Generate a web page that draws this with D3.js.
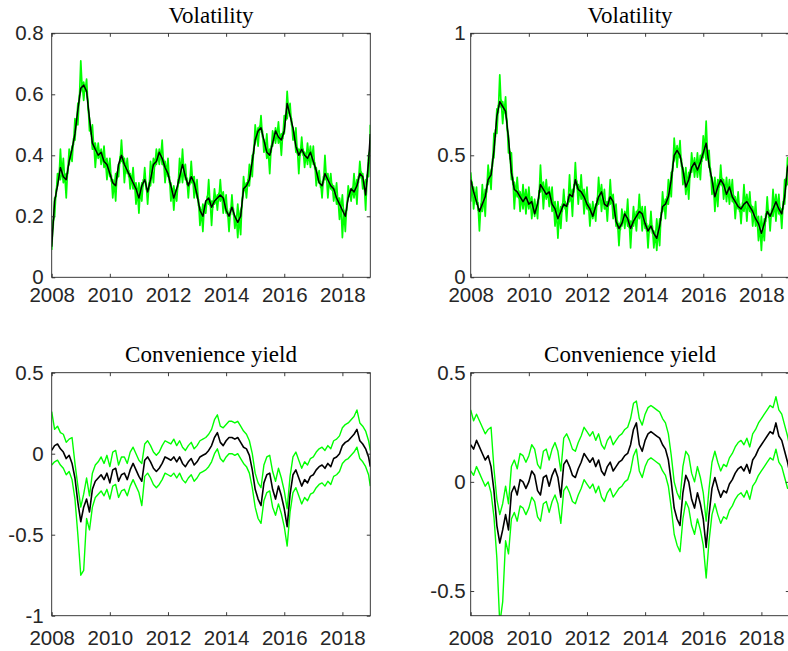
<!DOCTYPE html>
<html>
<head>
<meta charset="utf-8">
<script src="https://cdn.jsdelivr.net/npm/d3@7"></script>
<style>
  body { margin: 0; background: #fff; }
  svg { display: block; }
</style>
</head>
<body>
<div id="chart"></div>
<script>
// Sampling grid: every 0.1 year from 2008.0 to 2018.9, plus the last day of the sample
const years = d3.range(2008, 2018.95, 0.1).concat([2018.96]);
// In-between samples for the noisy volatility bands (2008.05 ... 2018.95)
const halfYears = d3.range(2008.05, 2018.96, 0.1);
const xTicks = [2008, 2010, 2012, 2014, 2016, 2018];

// Volatility, first contract (estimate + bands)
const vol1Mid = [
  0.10,0.25,0.30,0.36,0.33,0.32,0.38,0.42,0.47,0.55,
  0.62,0.63,0.61,0.52,0.44,0.42,0.40,0.41,0.38,0.37,
  0.34,0.31,0.30,0.37,0.40,0.37,0.35,0.33,0.31,0.29,
  0.26,0.30,0.32,0.28,0.32,0.37,0.38,0.41,0.39,0.36,
  0.34,0.30,0.26,0.29,0.33,0.37,0.33,0.30,0.33,0.31,
  0.27,0.22,0.20,0.25,0.26,0.23,0.25,0.26,0.27,0.26,
  0.22,0.20,0.23,0.20,0.18,0.20,0.29,0.30,0.32,0.38,
  0.45,0.48,0.49,0.45,0.41,0.40,0.44,0.48,0.46,0.45,
  0.48,0.57,0.53,0.49,0.43,0.40,0.42,0.40,0.39,0.41,
  0.38,0.35,0.31,0.30,0.34,0.32,0.30,0.29,0.26,0.24,
  0.22,0.20,0.26,0.29,0.28,0.30,0.34,0.33,0.27,0.38,
  0.47];
const vol1Up = [
  0.15,0.26,0.34,0.42,0.39,0.34,0.42,0.43,0.52,0.57,
  0.71,0.64,0.65,0.52,0.50,0.44,0.44,0.42,0.43,0.39,
  0.39,0.32,0.34,0.37,0.45,0.39,0.39,0.34,0.36,0.31,
  0.31,0.31,0.36,0.28,0.38,0.39,0.42,0.42,0.45,0.38,
  0.39,0.31,0.30,0.29,0.39,0.42,0.37,0.31,0.38,0.33,
  0.32,0.23,0.24,0.25,0.32,0.25,0.29,0.27,0.32,0.28,
  0.27,0.21,0.27,0.20,0.24,0.22,0.33,0.31,0.37,0.40,
  0.50,0.49,0.53,0.45,0.47,0.42,0.48,0.49,0.51,0.47,
  0.53,0.61,0.57,0.49,0.49,0.42,0.46,0.41,0.44,0.43,
  0.43,0.36,0.35,0.30,0.40,0.34,0.34,0.30,0.31,0.26,
  0.27,0.21,0.30,0.29,0.34,0.32,0.38,0.34,0.32,0.40,
  0.50];
const vol1UpHalf = [
  0.165,0.265,0.32,0.335,0.315,0.34,0.39,0.435,0.50,0.575,
  0.615,0.61,0.555,0.47,0.42,0.40,0.395,0.385,0.365,0.345,
  0.315,0.295,0.325,0.375,0.375,0.35,0.33,0.31,0.29,0.265,
  0.27,0.30,0.29,0.29,0.335,0.365,0.385,0.39,0.365,0.34,
  0.31,0.27,0.265,0.30,0.34,0.34,0.305,0.305,0.31,0.28,
  0.235,0.20,0.215,0.245,0.235,0.23,0.245,0.255,0.255,0.23,
  0.20,0.205,0.205,0.18,0.18,0.235,0.285,0.30,0.34,0.405,
  0.455,0.475,0.46,0.42,0.395,0.41,0.45,0.46,0.445,0.455,
  0.515,0.54,0.50,0.45,0.405,0.40,0.40,0.385,0.39,0.385,
  0.355,0.32,0.295,0.31,0.32,0.30,0.285,0.265,0.24,0.22,
  0.20,0.22,0.265,0.275,0.28,0.31,0.325,0.29,0.315,0.415];
const vol1Lo = [
  0.09,0.20,0.30,0.32,0.31,0.26,0.37,0.38,0.45,0.50,
  0.61,0.58,0.61,0.48,0.42,0.36,0.39,0.37,0.36,0.32,
  0.33,0.26,0.25,0.33,0.38,0.31,0.34,0.29,0.29,0.24,
  0.21,0.25,0.32,0.24,0.30,0.31,0.37,0.37,0.37,0.31,
  0.33,0.25,0.22,0.25,0.31,0.31,0.32,0.26,0.31,0.26,
  0.26,0.17,0.15,0.21,0.24,0.17,0.24,0.22,0.25,0.21,
  0.21,0.15,0.23,0.16,0.13,0.14,0.28,0.26,0.30,0.33,
  0.44,0.43,0.49,0.41,0.39,0.34,0.43,0.44,0.44,0.40,
  0.47,0.52,0.53,0.45,0.41,0.34,0.41,0.36,0.37,0.36,
  0.37,0.30,0.31,0.26,0.32,0.26,0.29,0.25,0.24,0.19,
  0.13,0.15,0.26,0.25,0.26,0.24,0.33,0.29,0.22,0.33,
  0.45];
const vol1LoHalf = [
  0.185,0.285,0.34,0.355,0.335,0.36,0.41,0.455,0.52,0.595,
  0.635,0.63,0.575,0.49,0.44,0.42,0.415,0.405,0.385,0.365,
  0.335,0.315,0.345,0.395,0.395,0.37,0.35,0.33,0.31,0.285,
  0.29,0.32,0.31,0.31,0.355,0.385,0.405,0.41,0.385,0.36,
  0.33,0.29,0.285,0.32,0.36,0.36,0.325,0.325,0.33,0.30,
  0.255,0.22,0.235,0.265,0.255,0.25,0.265,0.275,0.275,0.25,
  0.22,0.225,0.225,0.20,0.20,0.255,0.305,0.32,0.36,0.425,
  0.475,0.495,0.48,0.44,0.415,0.43,0.47,0.48,0.465,0.475,
  0.535,0.56,0.52,0.47,0.425,0.42,0.42,0.405,0.41,0.405,
  0.375,0.34,0.315,0.33,0.34,0.32,0.305,0.285,0.26,0.24,
  0.22,0.24,0.285,0.295,0.30,0.33,0.345,0.31,0.335,0.435];

// Volatility, second contract
const vol2Mid = [
  0.40,0.35,0.31,0.27,0.30,0.33,0.40,0.42,0.52,0.66,
  0.72,0.70,0.68,0.57,0.43,0.36,0.35,0.33,0.31,0.33,
  0.30,0.31,0.26,0.30,0.38,0.36,0.34,0.35,0.30,0.28,
  0.24,0.27,0.30,0.29,0.34,0.33,0.40,0.36,0.35,0.33,
  0.30,0.28,0.25,0.29,0.33,0.35,0.30,0.29,0.33,0.31,
  0.23,0.20,0.22,0.26,0.24,0.20,0.23,0.25,0.27,0.26,
  0.22,0.19,0.21,0.18,0.16,0.21,0.29,0.30,0.33,0.40,
  0.50,0.52,0.50,0.44,0.37,0.40,0.45,0.47,0.44,0.47,
  0.51,0.55,0.46,0.40,0.33,0.37,0.40,0.38,0.34,0.37,
  0.33,0.31,0.29,0.28,0.30,0.31,0.29,0.27,0.24,0.22,
  0.18,0.22,0.27,0.25,0.28,0.31,0.28,0.26,0.33,0.45,
  0.47];
const vol2Up = [
  0.43,0.37,0.37,0.28,0.38,0.36,0.46,0.44,0.59,0.69,
  0.83,0.72,0.74,0.58,0.51,0.39,0.41,0.35,0.38,0.36,
  0.37,0.33,0.32,0.31,0.46,0.39,0.40,0.37,0.37,0.31,
  0.31,0.29,0.36,0.30,0.42,0.36,0.47,0.38,0.42,0.36,
  0.37,0.30,0.31,0.30,0.41,0.38,0.36,0.31,0.40,0.34,
  0.30,0.22,0.28,0.27,0.32,0.23,0.29,0.27,0.34,0.29,
  0.29,0.21,0.27,0.19,0.24,0.24,0.35,0.32,0.40,0.43,
  0.57,0.54,0.56,0.45,0.45,0.43,0.51,0.49,0.51,0.50,
  0.58,0.64,0.52,0.41,0.41,0.40,0.46,0.40,0.41,0.40,
  0.40,0.33,0.35,0.29,0.38,0.34,0.35,0.29,0.31,0.25,
  0.25,0.24,0.33,0.26,0.36,0.34,0.34,0.28,0.40,0.49,
  0.50];
const vol2UpHalf = [
  0.36,0.315,0.275,0.27,0.30,0.35,0.395,0.455,0.575,0.675,
  0.695,0.675,0.61,0.485,0.38,0.34,0.325,0.305,0.305,0.30,
  0.29,0.27,0.265,0.325,0.355,0.335,0.33,0.31,0.275,0.245,
  0.24,0.27,0.28,0.30,0.32,0.35,0.365,0.34,0.325,0.30,
  0.275,0.25,0.255,0.295,0.325,0.31,0.28,0.295,0.305,0.255,
  0.20,0.195,0.225,0.235,0.205,0.20,0.225,0.245,0.25,0.225,
  0.19,0.185,0.18,0.155,0.17,0.235,0.28,0.30,0.35,0.435,
  0.495,0.495,0.455,0.39,0.37,0.41,0.445,0.44,0.44,0.475,
  0.515,0.49,0.415,0.35,0.335,0.37,0.375,0.345,0.34,0.335,
  0.305,0.285,0.27,0.275,0.29,0.285,0.265,0.24,0.215,0.185,
  0.185,0.23,0.245,0.25,0.28,0.28,0.255,0.28,0.375,0.445];
const vol2Lo = [
  0.31,0.28,0.30,0.19,0.27,0.25,0.38,0.36,0.49,0.59,
  0.70,0.63,0.67,0.51,0.40,0.28,0.33,0.27,0.28,0.26,
  0.28,0.24,0.25,0.24,0.35,0.28,0.32,0.29,0.27,0.21,
  0.16,0.20,0.29,0.23,0.31,0.25,0.38,0.30,0.32,0.26,
  0.28,0.21,0.24,0.23,0.30,0.27,0.28,0.23,0.30,0.24,
  0.21,0.13,0.21,0.20,0.21,0.12,0.21,0.19,0.24,0.19,
  0.20,0.12,0.20,0.12,0.11,0.13,0.27,0.24,0.30,0.33,
  0.48,0.45,0.49,0.38,0.34,0.32,0.43,0.41,0.41,0.40,
  0.49,0.48,0.45,0.34,0.27,0.29,0.38,0.32,0.31,0.30,
  0.31,0.24,0.28,0.22,0.27,0.23,0.27,0.21,0.21,0.15,
  0.11,0.15,0.26,0.19,0.25,0.23,0.26,0.20,0.30,0.38,
  0.44];
const vol2LoHalf = [
  0.39,0.345,0.305,0.30,0.33,0.38,0.425,0.485,0.605,0.705,
  0.725,0.705,0.64,0.515,0.41,0.37,0.355,0.335,0.335,0.33,
  0.32,0.30,0.295,0.355,0.385,0.365,0.36,0.34,0.305,0.275,
  0.27,0.30,0.31,0.33,0.35,0.38,0.395,0.37,0.355,0.33,
  0.305,0.28,0.285,0.325,0.355,0.34,0.31,0.325,0.335,0.285,
  0.23,0.225,0.255,0.265,0.235,0.23,0.255,0.275,0.28,0.255,
  0.22,0.215,0.21,0.185,0.20,0.265,0.31,0.33,0.38,0.465,
  0.525,0.525,0.485,0.42,0.40,0.44,0.475,0.47,0.47,0.505,
  0.545,0.52,0.445,0.38,0.365,0.40,0.405,0.375,0.37,0.365,
  0.335,0.315,0.30,0.305,0.32,0.315,0.295,0.27,0.245,0.215,
  0.215,0.26,0.275,0.28,0.31,0.31,0.285,0.31,0.405,0.475];

// Convenience yield, first contract
const conv1Mid = [
  0.02,0.05,0.06,0.03,0.01,-0.03,-0.01,-0.06,-0.15,-0.30,
  -0.42,-0.33,-0.28,-0.36,-0.22,-0.17,-0.15,-0.13,-0.16,-0.12,
  -0.18,-0.10,-0.09,-0.17,-0.13,-0.12,-0.16,-0.10,-0.06,-0.10,
  -0.14,-0.17,-0.04,-0.02,-0.05,-0.09,-0.11,-0.09,-0.06,-0.02,
  -0.03,-0.04,-0.02,-0.05,-0.02,-0.06,-0.08,-0.05,-0.03,-0.07,
  -0.05,-0.02,-0.01,0.00,0.02,0.05,0.10,0.13,0.07,0.05,
  0.08,0.10,0.10,0.09,0.10,0.07,0.04,0.03,-0.01,-0.10,
  -0.22,-0.28,-0.32,-0.18,-0.13,-0.12,-0.22,-0.28,-0.20,-0.26,
  -0.34,-0.45,-0.25,-0.13,-0.10,-0.15,-0.20,-0.16,-0.18,-0.14,
  -0.13,-0.10,-0.08,-0.07,-0.09,-0.06,-0.08,-0.03,-0.02,0.00,
  0.05,0.07,0.08,0.10,0.12,0.15,0.08,0.06,0.03,-0.02,
  -0.08];
const conv1Up = [
  0.26,0.15,0.17,0.13,0.12,0.07,0.09,0.10,-0.06,-0.20,
  -0.33,-0.25,-0.15,-0.26,-0.12,-0.07,-0.05,-0.02,-0.06,-0.01,
  -0.08,0.01,0.02,-0.07,-0.02,-0.02,-0.06,0.01,0.04,0.00,
  -0.04,-0.06,0.06,0.08,0.05,0.01,-0.01,0.01,0.05,0.08,
  0.07,0.06,0.09,0.05,0.08,0.04,0.02,0.05,0.07,0.03,
  0.05,0.08,0.09,0.10,0.12,0.15,0.21,0.24,0.17,0.16,
  0.18,0.20,0.20,0.19,0.20,0.17,0.14,0.12,0.08,0.00,
  -0.12,-0.18,-0.21,-0.07,-0.02,-0.01,-0.11,-0.17,-0.09,-0.15,
  -0.23,-0.34,-0.14,-0.02,0.01,-0.04,-0.09,-0.05,-0.07,-0.03,
  -0.02,0.01,0.03,0.04,0.02,0.05,0.03,0.08,0.09,0.11,
  0.16,0.18,0.19,0.21,0.23,0.27,0.19,0.17,0.14,0.08,
  0.02];
const conv1Lo = [
  -0.07,-0.05,-0.04,-0.07,-0.09,-0.13,-0.11,-0.16,-0.28,-0.50,
  -0.75,-0.72,-0.40,-0.47,-0.33,-0.27,-0.25,-0.23,-0.26,-0.22,
  -0.28,-0.20,-0.19,-0.27,-0.23,-0.22,-0.26,-0.20,-0.16,-0.20,
  -0.24,-0.32,-0.14,-0.12,-0.15,-0.19,-0.21,-0.19,-0.16,-0.12,
  -0.13,-0.14,-0.12,-0.15,-0.12,-0.16,-0.18,-0.15,-0.13,-0.17,
  -0.15,-0.12,-0.11,-0.10,-0.08,-0.05,0.00,0.03,-0.03,-0.05,
  -0.02,0.00,0.00,-0.01,0.00,-0.03,-0.06,-0.08,-0.12,-0.21,
  -0.33,-0.40,-0.43,-0.29,-0.24,-0.23,-0.33,-0.38,-0.31,-0.37,
  -0.45,-0.57,-0.36,-0.24,-0.21,-0.26,-0.31,-0.27,-0.29,-0.25,
  -0.24,-0.21,-0.19,-0.18,-0.20,-0.17,-0.19,-0.14,-0.13,-0.11,
  -0.06,-0.04,-0.03,-0.01,0.01,0.04,-0.03,-0.05,-0.08,-0.13,
  -0.20];

// Convenience yield, second contract
const conv2Mid = [
  0.17,0.15,0.19,0.16,0.13,0.10,0.12,0.07,-0.04,-0.20,
  -0.28,-0.22,-0.15,-0.22,-0.05,-0.02,-0.06,0.01,0.00,-0.03,
  0.00,0.05,0.03,-0.04,-0.06,0.02,0.03,-0.02,0.03,0.06,
  0.02,-0.07,0.08,0.10,0.07,0.03,0.02,0.06,0.09,0.13,
  0.11,0.09,0.11,0.07,0.10,0.05,0.03,0.07,0.09,0.05,
  0.07,0.09,0.10,0.12,0.13,0.17,0.24,0.27,0.17,0.14,
  0.19,0.22,0.23,0.22,0.21,0.20,0.17,0.15,0.10,0.00,
  -0.12,-0.17,-0.20,-0.05,0.03,0.00,-0.08,-0.12,-0.05,-0.10,
  -0.17,-0.30,-0.15,-0.03,0.02,-0.03,-0.07,-0.04,-0.05,-0.01,
  0.01,0.04,0.06,0.07,0.05,0.08,0.04,0.10,0.12,0.15,
  0.17,0.19,0.21,0.23,0.22,0.27,0.21,0.19,0.14,0.09,
  0.05];
const conv2Up = [
  0.33,0.28,0.31,0.28,0.25,0.22,0.24,0.25,0.06,-0.08,
  -0.15,-0.10,-0.02,-0.10,0.07,0.10,0.06,0.13,0.12,0.09,
  0.12,0.17,0.15,0.08,0.06,0.14,0.15,0.10,0.15,0.18,
  0.14,0.05,0.20,0.22,0.19,0.15,0.14,0.18,0.21,0.25,
  0.23,0.21,0.23,0.19,0.22,0.17,0.15,0.19,0.21,0.17,
  0.19,0.21,0.22,0.24,0.25,0.29,0.36,0.37,0.29,0.26,
  0.31,0.34,0.35,0.34,0.33,0.32,0.29,0.27,0.22,0.12,
  0.00,-0.05,-0.08,0.07,0.14,0.12,0.04,0.00,0.07,0.02,
  -0.05,-0.18,-0.03,0.09,0.14,0.09,0.05,0.08,0.07,0.11,
  0.13,0.16,0.18,0.19,0.17,0.20,0.16,0.22,0.24,0.27,
  0.29,0.31,0.33,0.35,0.34,0.39,0.33,0.31,0.26,0.21,
  0.17];
const conv2Lo = [
  0.05,0.03,0.07,0.04,0.01,-0.02,0.00,-0.05,-0.16,-0.35,
  -0.65,-0.55,-0.27,-0.33,-0.17,-0.14,-0.18,-0.11,-0.12,-0.15,
  -0.12,-0.07,-0.09,-0.16,-0.18,-0.10,-0.09,-0.14,-0.09,-0.06,
  -0.10,-0.19,-0.04,-0.02,-0.05,-0.09,-0.10,-0.06,-0.03,0.01,
  -0.01,-0.03,-0.01,-0.05,-0.02,-0.07,-0.09,-0.05,-0.03,-0.07,
  -0.05,-0.03,-0.02,0.00,0.01,0.05,0.12,0.15,0.05,0.02,
  0.07,0.10,0.11,0.10,0.09,0.08,0.05,0.03,-0.02,-0.12,
  -0.24,-0.29,-0.32,-0.17,-0.09,-0.12,-0.20,-0.24,-0.17,-0.22,
  -0.29,-0.44,-0.27,-0.15,-0.10,-0.15,-0.19,-0.16,-0.17,-0.13,
  -0.11,-0.08,-0.06,-0.05,-0.07,-0.04,-0.08,-0.02,0.00,0.03,
  0.05,0.07,0.09,0.11,0.10,0.15,0.09,0.07,0.02,-0.03,
  -0.03];

const vol1Ticks = [0, 0.2, 0.4, 0.6, 0.8];
const vol2Ticks = [0, 0.5, 1];
const conv1Ticks = [-1, -0.5, 0, 0.5];
const conv2Ticks = [-0.5, 0, 0.5];

// Layout (MATLAB-like 2x2 subplot grid, right column cropped at the window edge)
const axisColor = "#262626";
const bandColor = "#00ff00";
const tickLen = 3.5;
const plotWidth = 318.6;
const xDomain = [2008, 2018.96];

const panels = [
  { title: "Volatility", mid: vol1Mid, up: vol1Up, lo: vol1Lo, upHalf: vol1UpHalf, loHalf: vol1LoHalf,
    yDomain: [0, 0.8], yTicks: vol1Ticks,
    left: 51.7, top: 33.3, bottom: 277.3, yPad: 8, xPad: 9.8, titleY: 23.3, midW: 1.5, bandW: 1.7 },
  { title: "Volatility", mid: vol2Mid, up: vol2Up, lo: vol2Lo, upHalf: vol2UpHalf, loHalf: vol2LoHalf,
    yDomain: [0, 1], yTicks: vol2Ticks,
    left: 470.7, top: 33.3, bottom: 277.3, yPad: 5, xPad: 9.8, titleY: 23.3, midW: 1.5, bandW: 1.7 },
  { title: "Convenience yield", mid: conv1Mid, up: conv1Up, lo: conv1Lo,
    yDomain: [-1, 0.5], yTicks: conv1Ticks,
    left: 51.7, top: 372.7, bottom: 615.7, yPad: 8, xPad: 14.6, titleY: 362.3, midW: 1.6, bandW: 1.4 },
  { title: "Convenience yield", mid: conv2Mid, up: conv2Up, lo: conv2Lo,
    yDomain: [-0.613, 0.5], yTicks: conv2Ticks,
    left: 470.7, top: 372.7, bottom: 615.7, yPad: 5, xPad: 14.6, titleY: 362.3, midW: 1.6, bandW: 1.4 },
];

// pair values with their dates, slotting the in-between samples when a panel has them
function toPoints(vals, half) {
  return d3.merge(vals.map((v, i) => {
    const pts = [[years[i], v]];
    if (half && i < half.length) pts.push([halfYears[i], half[i]]);
    return pts;
  }));
}

const svg = d3.select("#chart").append("svg").attr("width", 788).attr("height", 651);

function styleAxis(g) {
  g.select(".domain").remove();
  g.selectAll(".tick line").attr("stroke", axisColor).attr("stroke-width", 0.9);
  g.selectAll(".tick text")
    .attr("fill", axisColor)
    .style("font-family", "'Liberation Sans', Arial, Helvetica, sans-serif")
    .style("font-size", "20.5px");
}

panels.forEach((p, i) => {
  const x = d3.scaleLinear().domain(xDomain).range([p.left, p.left + plotWidth]);
  const y = d3.scaleLinear().domain(p.yDomain).range([p.bottom, p.top]);

  svg.append("clipPath").attr("id", "clip" + i)
    .append("rect")
    .attr("x", p.left).attr("y", p.top)
    .attr("width", plotWidth).attr("height", p.bottom - p.top);

  const plot = svg.append("g").attr("clip-path", `url(#clip${i})`);
  const line = d3.line().x((d) => x(d[0])).y((d) => y(d[1]));

  [toPoints(p.up, p.upHalf), toPoints(p.lo, p.loHalf)].forEach((pts) => {
    plot.append("path").datum(pts)
      .attr("d", line).attr("fill", "none")
      .attr("stroke", bandColor).attr("stroke-width", p.bandW).attr("stroke-linejoin", "round");
  });

  plot.append("path").datum(toPoints(p.mid))
    .attr("d", line).attr("fill", "none")
    .attr("stroke", "#000").attr("stroke-width", p.midW).attr("stroke-linejoin", "round");

  // axes: inward ticks on all four sides
  svg.append("g").attr("transform", `translate(0,${p.bottom})`)
    .call(d3.axisBottom(x).tickValues(xTicks).tickSize(-tickLen).tickPadding(p.xPad).tickFormat(d3.format("d")))
    .call(styleAxis);
  svg.append("g").attr("transform", `translate(0,${p.top})`)
    .call(d3.axisTop(x).tickValues(xTicks).tickSize(-tickLen).tickFormat(""))
    .call(styleAxis);
  svg.append("g").attr("transform", `translate(${p.left},0)`)
    .call(d3.axisLeft(y).tickValues(p.yTicks).tickSize(-tickLen).tickPadding(p.yPad).tickFormat((d) => String(d)))
    .call(styleAxis);
  svg.append("g").attr("transform", `translate(${p.left + plotWidth},0)`)
    .call(d3.axisRight(y).tickValues(p.yTicks).tickSize(-tickLen).tickFormat(""))
    .call(styleAxis);

  svg.append("rect")
    .attr("x", p.left).attr("y", p.top)
    .attr("width", plotWidth).attr("height", p.bottom - p.top)
    .attr("fill", "none").attr("stroke", axisColor).attr("stroke-width", 0.9);

  svg.append("text")
    .attr("x", p.left + plotWidth / 2)
    .attr("y", p.titleY)
    .attr("text-anchor", "middle")
    .attr("fill", "#000")
    .style("font-family", "'Liberation Serif', 'Times New Roman', serif")
    .style("font-size", "23px")
    .text(p.title);
});
</script>
</body>
</html>
